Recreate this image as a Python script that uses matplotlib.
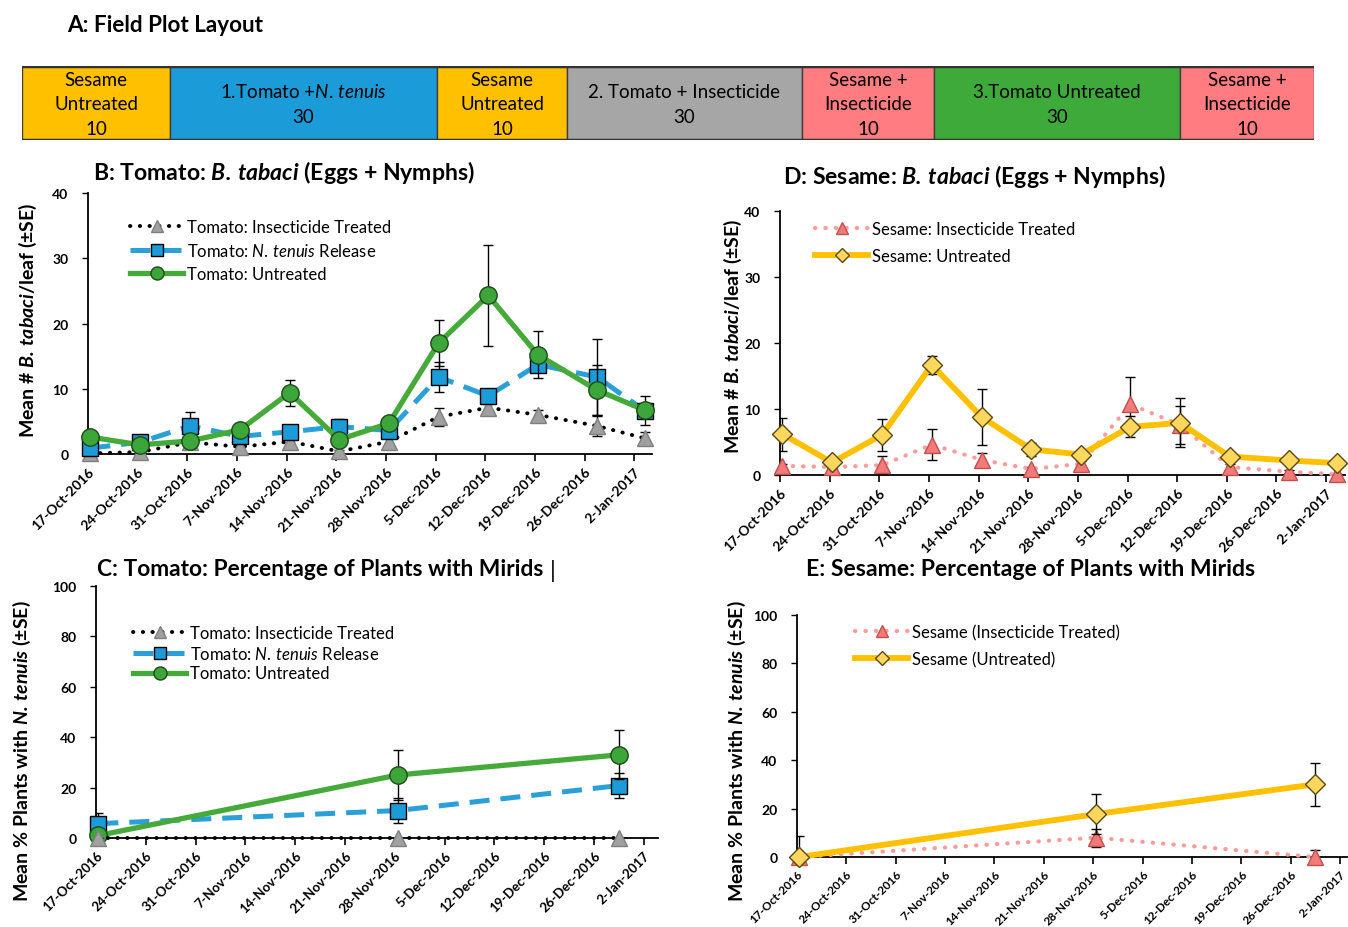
import numpy as np
import matplotlib
matplotlib.use('Agg')
import matplotlib.pyplot as plt
from matplotlib.patches import Rectangle

plt.rcParams['font.family'] = ['Lato', 'DejaVu Sans']
plt.rcParams['mathtext.fontset'] = 'custom'
plt.rcParams['mathtext.rm'] = 'Lato'
plt.rcParams['mathtext.it'] = 'Lato:italic'
plt.rcParams['mathtext.bf'] = 'Lato:bold'
plt.rcParams['mathtext.bfit'] = 'Lato:italic:bold'

# A: field plot layout
plot_names = ['Sesame\nUntreated', '1.Tomato +$\\mathit{N.\\,tenuis}$', 'Sesame\nUntreated',
              '2. Tomato + Insecticide', 'Sesame +\nInsecticide', '3.Tomato Untreated',
              'Sesame +\nInsecticide']
plot_counts = [10, 30, 10, 30, 10, 30, 10]
plot_colors = ['#FFC000', '#1B9BD7', '#FFC000', '#A6A6A6', '#FF7C80', '#3DAA3A', '#FF7C80']
box_widths = [148, 267, 130, 235, 132, 246, 134]

# weekly axis
tick_dates = ['2016-10-17', '2016-10-24', '2016-10-31', '2016-11-07', '2016-11-14', '2016-11-21',
              '2016-11-28', '2016-12-05', '2016-12-12', '2016-12-19', '2016-12-26', '2017-01-02']
tick_labels = ['17-Oct-2016', '24-Oct-2016', '31-Oct-2016', '7-Nov-2016', '14-Nov-2016', '21-Nov-2016',
               '28-Nov-2016', '5-Dec-2016', '12-Dec-2016', '19-Dec-2016', '26-Dec-2016', '2-Jan-2017']

# B / D: B. tabaci sample dates
sample_dates = ['2016-10-17T08:00', '2016-10-24T08:00', '2016-10-31T10:00', '2016-11-07T10:00',
                '2016-11-14T10:00', '2016-11-21T10:00', '2016-11-28T10:00', '2016-12-05T10:00',
                '2016-12-12T10:00', '2016-12-19T10:00', '2016-12-27T18:00', '2017-01-03T12:00']

# B: tomato
tom_ins = [0.1, 0.3, 1.8, 1.1, 1.9, 0.4, 1.9, 5.7, 7.1, 6.0, 4.3, 2.4]
tom_ins_se = [0.1, 0.1, 0.5, 0.4, 0.5, 0.2, 0.5, 1.4, 0.6, 0.7, 1.6, 0.9]
tom_nt = [0.9, 1.8, 4.3, 2.7, 3.4, 4.2, 3.6, 11.8, 8.9, 13.7, 11.8, 6.6]
tom_nt_se = [0.5, 0.4, 2.2, 0.8, 0.7, 1.2, 0.9, 2.3, 0.8, 1.2, 5.8, 1.0]
tom_un = [2.6, 1.4, 2.0, 3.7, 9.4, 2.2, 4.7, 17.0, 24.3, 15.2, 9.8, 6.7]
tom_un_se = [0.6, 0.4, 0.5, 0.6, 2.0, 0.7, 0.9, 3.5, 7.8, 3.6, 3.8, 2.2]

# D: sesame
ses_ins = [1.4, 1.2, 1.5, 4.6, 2.3, 0.9, 1.7, 10.7, 7.6, 1.2, 0.5, 0.1]
ses_ins_se = [0.3, 0.2, 1.4, 2.3, 1.1, 0.3, 0.4, 4.1, 2.9, 0.4, 0.3, 0.1]
ses_un = [6.2, 1.9, 6.1, 16.7, 8.8, 3.9, 3.1, 7.3, 7.9, 2.8, 2.2, 1.8]
ses_un_se = [2.5, 0.4, 2.4, 1.4, 4.2, 1.0, 0.6, 1.6, 3.7, 0.6, 0.4, 0.3]

# C / E: mirid sample dates
mirid_dates_tom = ['2016-10-17T08:00', '2016-11-28T10:00', '2016-12-29T12:00']
mirid_dates_ses = ['2016-10-17T08:00', '2016-11-28T08:00', '2016-12-29T10:00']

# C: tomato % plants with N. tenuis
mir_tom_ins = [0, 0, 0]
mir_tom_ins_se = [0, 0, 0]
mir_tom_nt = [5.7, 10.9, 20.8]
mir_tom_nt_se = [4.3, 5.0, 4.9]
mir_tom_un = [1.0, 25.0, 33.0]
mir_tom_un_se = [0.8, 9.8, 9.7]

# E: sesame % plants with N. tenuis
mir_ses_ins = [0, 8.0, 0]
mir_ses_ins_se = [0, 3.7, 2.9]
mir_ses_un = [0, 17.7, 30.0]
mir_ses_un_se = [8.7, 8.2, 9.0]

W, H = 1348, 928
fig = plt.figure(figsize=(W / 100, H / 100), dpi=100)


def fx(px):
    return px / W


def fy(py):
    return 1 - py / H


# styles
sty_tom_ins = dict(color='black', lw=2.8, linestyle=(0, (0.1, 2.4)), dash_capstyle='round',
                   marker='^', ms=12, mfc='#A0A0A0', mec='#7F7F7F', mew=1)
sty_tom_nt = dict(color='#2A9FD8', lw=3.6, linestyle=(0, (4, 2.2)),
                  marker='s', ms=12, mfc='#1B9BD7', mec='black', mew=1)
sty_tom_un = dict(color='#45AA3A', lw=3.8, linestyle='-',
                  marker='o', ms=12.5, mfc='#3DA63A', mec='#1E4A1A', mew=1)
sty_ses_ins = dict(color='#FF9B9B', lw=3.0, linestyle=(0, (0.1, 2.4)), dash_capstyle='round',
                   marker='^', ms=12, mfc='#F27A7A', mec='#C0504D', mew=1)
sty_ses_un = dict(color='#FFC000', lw=4.2, linestyle='-',
                  marker='D', ms=10, mfc='#FFD75E', mec='#5A4A10', mew=1)


def draw_series(ax, x, y, se, z, label, style):
    ax.errorbar(x, y, yerr=se, fmt='none', ecolor='black', elinewidth=1, capsize=3.5,
                capthick=1, zorder=z)
    line, = ax.plot(x, y, zorder=z + 0.5, clip_on=False, label=label, **style)
    return line


def style_axes(ax, ymax, ystep, xend, xsize=10):
    ax.set_ylim(0, ymax)
    ax.set_yticks(np.arange(0, ymax + 1, ystep))
    ax.set_xlim(np.datetime64('2016-10-17T00:00'), np.datetime64(xend))
    ax.set_xticks(np.array(tick_dates, dtype='datetime64[m]'))
    ax.set_xticklabels(tick_labels, rotation=45, ha='right', rotation_mode='anchor',
                       fontweight='bold', fontsize=xsize)
    for lab in ax.get_yticklabels():
        lab.set_fontweight('bold')
        lab.set_fontsize(10)
    for s in ['top', 'right']:
        ax.spines[s].set_visible(False)
    for s in ['left', 'bottom']:
        ax.spines[s].set_linewidth(1.3)
    ax.tick_params(axis='y', direction='out', length=4, width=1, pad=10)
    ax.tick_params(axis='x', direction='out', length=5, width=1.2, pad=3)


def legend_at(ax, lines, x, y, spacing):
    ax.legend(handles=lines, loc='upper left', bbox_to_anchor=(fx(x), fy(y)),
              bbox_transform=fig.transFigure, frameon=False, fontsize=12, handlelength=3.2,
              handletextpad=0.2, labelspacing=spacing, borderpad=0, borderaxespad=0,
              markerscale=0.75)


# ---- A: layout ----
fig.text(fx(67), fy(26), 'A: Field Plot Layout', fontsize=16.2, fontweight='bold', ha='left', va='center')
ax0 = fig.add_axes([fx(22), fy(141), fx(1314 - 22), (141 - 67) / H])
left = 0
for name, n, c, w in zip(plot_names, plot_counts, plot_colors, box_widths):
    ax0.add_patch(Rectangle((left, 0), w, 1, facecolor=c, edgecolor='#3F3F3F', lw=1))
    ax0.text(left + w / 2, 0.49, name + '\n' + str(n), ha='center', va='center',
             fontsize=13.5, linespacing=1.55)
    left += w
ax0.plot([0, left], [1, 1], color='#333333', lw=2.5)
ax0.plot([0, left], [0, 0], color='#333333', lw=2.5)
ax0.set_xlim(0, left)
ax0.set_ylim(0, 1)
ax0.axis('off')

# ---- B ----
xb = np.array(sample_dates, dtype='datetime64[m]')
axB = fig.add_axes([fx(88), fy(455), fx(652 - 88), (455 - 194) / H])
lb = [draw_series(axB, xb, tom_ins, tom_ins_se, 3, 'Tomato: Insecticide Treated', sty_tom_ins),
      draw_series(axB, xb, tom_nt, tom_nt_se, 4, 'Tomato: $\\mathit{N.\\,tenuis}$ Release', sty_tom_nt),
      draw_series(axB, xb, tom_un, tom_un_se, 5, 'Tomato: Untreated', sty_tom_un)]
style_axes(axB, 40, 10, '2017-01-04T12:00')
legend_at(axB, lb, 130, 220, 0.42)
fig.text(fx(93), fy(173), 'B: Tomato: $\\mathbfit{B.\\,tabaci}$ (Eggs + Nymphs)', fontsize=16.6,
         fontweight='bold', ha='left', va='center')
fig.text(fx(28), fy(320), 'Mean # $\\mathbfit{B.\\,tabaci}$/leaf (±SE)', rotation=90, fontsize=14,
         fontweight='bold', ha='center', va='center')

# ---- D ----
axD = fig.add_axes([fx(780), fy(476), fx(1345 - 780), (476 - 212) / H])
ld = [draw_series(axD, xb, ses_ins, ses_ins_se, 3, 'Sesame: Insecticide Treated', sty_ses_ins),
      draw_series(axD, xb, ses_un, ses_un_se, 4, 'Sesame: Untreated', sty_ses_un)]
style_axes(axD, 40, 10, '2017-01-04T16:00')
legend_at(axD, ld, 815, 222, 0.65)
fig.text(fx(783), fy(176), 'D: Sesame: $\\mathbfit{B.\\,tabaci}$ (Eggs + Nymphs)', fontsize=16.6,
         fontweight='bold', ha='left', va='center')
fig.text(fx(733), fy(336), 'Mean # $\\mathbfit{B.\\,tabaci}$/leaf (±SE)', rotation=90, fontsize=14,
         fontweight='bold', ha='center', va='center')

# ---- C ----
xc = np.array(mirid_dates_tom, dtype='datetime64[m]')
axC = fig.add_axes([fx(96), fy(839), fx(658 - 96), (839 - 587) / H])
lc = [draw_series(axC, xc, mir_tom_ins, mir_tom_ins_se, 5, 'Tomato: Insecticide Treated', sty_tom_ins),
      draw_series(axC, xc, mir_tom_nt, mir_tom_nt_se, 3, 'Tomato: $\\mathit{N.\\,tenuis}$ Release', sty_tom_nt),
      draw_series(axC, xc, mir_tom_un, mir_tom_un_se, 4, 'Tomato: Untreated', sty_tom_un)]
style_axes(axC, 100, 20, '2017-01-04T00:00', xsize=9.5)
legend_at(axC, lc, 133, 626, 0.22)
fig.text(fx(97), fy(570), 'C: Tomato: Percentage of Plants with Mirids', fontsize=16.4,
         fontweight='bold', ha='left', va='center')
fig.text(fx(553), fy(571), '|', fontsize=17, ha='center', va='center')
fig.text(fx(22), fy(751), 'Mean % Plants with $\\mathbfit{N.\\,tenuis}$ (±SE)', rotation=90,
         fontsize=14, fontweight='bold', ha='center', va='center')

# ---- E ----
xe = np.array(mirid_dates_ses, dtype='datetime64[m]')
axE = fig.add_axes([fx(797), fy(858), fx(1347 - 797), (858 - 616) / H])
le = [draw_series(axE, xe, mir_ses_ins, mir_ses_ins_se, 3, 'Sesame (Insecticide Treated)', sty_ses_ins),
      draw_series(axE, xe, mir_ses_un, mir_ses_un_se, 4, 'Sesame (Untreated)', sty_ses_un)]
style_axes(axE, 100, 20, '2017-01-03T00:00', xsize=8.5)
legend_at(axE, le, 855, 625, 0.65)
fig.text(fx(806), fy(570), 'E: Sesame: Percentage of Plants with Mirids', fontsize=16.6,
         fontweight='bold', ha='left', va='center')
fig.text(fx(737), fy(751), 'Mean % Plants with $\\mathbfit{N.\\,tenuis}$ (±SE)', rotation=90,
         fontsize=14, fontweight='bold', ha='center', va='center')

fig.savefig('out.png', dpi=100)
